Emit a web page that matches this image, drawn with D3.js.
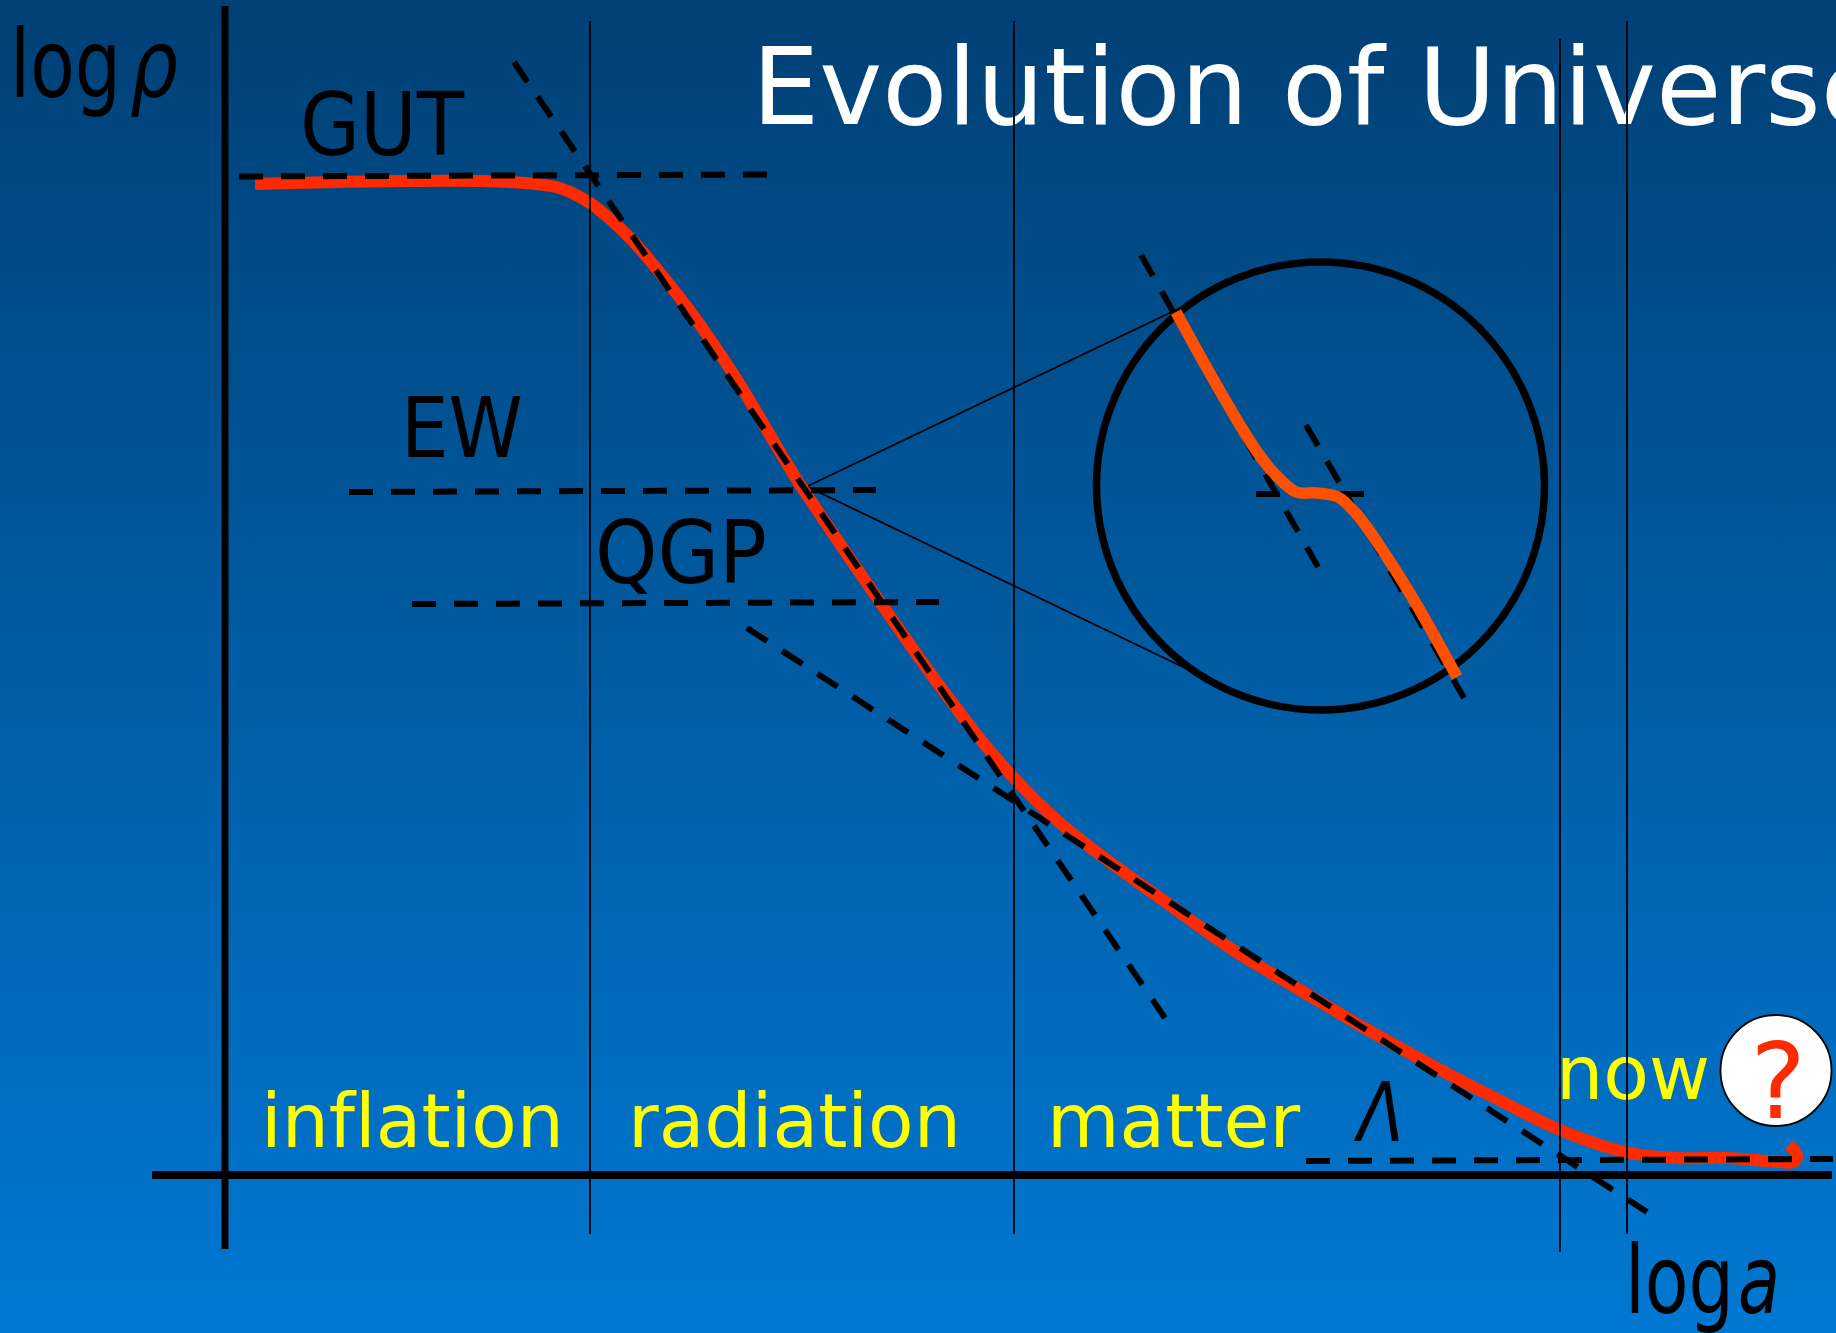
<!DOCTYPE html>
<html><head><meta charset="utf-8">
<style>html,body{margin:0;padding:0;overflow:hidden;background:#000}svg{display:block}text{font-family:"DejaVu Sans";font-variant-ligatures:none}</style>
<script src="https://cdnjs.cloudflare.com/ajax/libs/d3/7.8.5/d3.min.js"></script>
</head><body>
<script>
// Data: [log a, log rho] in arbitrary units, origin at the axis crossing
const densityCurve=[[30,991],[183,994],[285,993],[331,988],[345,983],[365,972],[385,956],[407,935],[431,907],[468,860],[491,827],[512,795],[532,762],[552,728],[572,695],[590,668],[628,612],[655,573],[688,526],[711,494],[735,462],[756,435],[788,398],[835,352],[882,315],[942,272],[1008,225],[1075,185],[1143,145],[1212,107],[1280,72],[1335,45],[1400,23],[1451,17],[1502,17],[1554,13],[1569,13],[1572,20],[1564,30]];
const insetCurve=[[951,863],[983,805],[1018,745],[1035,719],[1049,702],[1071,683],[1092,682],[1113,678],[1134,658],[1162,618],[1193,568],[1232,498]];
const gutLevel=[[14,998.5],[542,1000.5]];
const ewLevel=[[124,683],[651,685]];
const qgpLevel=[[187,571],[714,573]];
const lambdaLevel=[[1081,14],[1608,16]];
const radiationSlope=[[289,1113],[940,157]];
const matterSlope=[[522,547],[1422,-37]];
const insetSlopeA=[[916,920],[1093,608]];
const insetSlopeB=[[1081,750],[1239,477]];
const insetLevel=[[1031,681],[1139,681]];
const zoomLines=[[[583,689],[955,867]],[[583,688],[960,507]]];
const eraBounds=[[365,1154,-59],[789,1154,-59],[1335,1136,-77],[1402,1154,-59]];
const yAxisLine=[[0,1169],[0,-74]];
const xAxisLine=[[-73,0],[1607,0]];
const insetCircle={a:1095.5,r:689,radius:224};
const eras=["inflation","radiation","matter","now"];
const levels=["GUT","EW","QGP"];
const title="Evolution of Universe";

const W=1836,H=1333;
const x=d3.scaleLinear().domain([0,1000]).range([225,1225]);
const y=d3.scaleLinear().domain([0,1000]).range([1175,175]);
const line=d3.line().x(d=>x(d[0])).y(d=>y(d[1]));
const smooth=d3.line().x(d=>x(d[0])).y(d=>y(d[1])).curve(d3.curveCatmullRom.alpha(0.5));

const svg=d3.select("body").append("svg").attr("width",W).attr("height",H).attr("viewBox",`0 0 ${W} ${H}`);
const grad=svg.append("defs").append("linearGradient").attr("id","bg").attr("x1",0).attr("y1",0).attr("x2",0).attr("y2",1);
grad.append("stop").attr("offset",0).attr("stop-color","#004075");
grad.append("stop").attr("offset",1).attr("stop-color","#0078d2");
svg.append("rect").attr("width",W).attr("height",H).attr("fill","url(#bg)");

const DASH="24 18";
function stroke(d,w,col,dash,gen){const p=svg.append("path").attr("d",(gen||line)(d)).attr("fill","none").attr("stroke",col).attr("stroke-width",w);if(dash)p.attr("stroke-dasharray",dash);return p;}
function label(t,px,py,size,col,len,opts){opts=opts||{};const e=svg.append("text").attr("x",px).attr("y",py).attr("font-size",size).attr("fill",col).text(t);
 if(opts.italic)e.attr("font-style","italic");
 if(opts.cond)e.style("font-stretch","condensed");
 if(opts.anchor)e.attr("text-anchor",opts.anchor);
 if(len)e.attr("textLength",len).attr("lengthAdjust","spacingAndGlyphs");return e;}

// inset
stroke(insetSlopeA,6,"#000",DASH);
stroke(insetSlopeB,6,"#000",DASH);
stroke(insetLevel,6,"#000",DASH);
zoomLines.forEach(l=>stroke(l,1.8,"#000"));
svg.append("circle").attr("cx",x(insetCircle.a)).attr("cy",y(insetCircle.r)).attr("r",x(insetCircle.radius)-x(0)).attr("fill","none").attr("stroke","#000").attr("stroke-width",7.5);
stroke(insetCurve,11.5,"#ff5000",null,smooth);

// main curve
stroke(densityCurve,12,"#ff2a00",null,smooth);
[gutLevel,ewLevel,qgpLevel,lambdaLevel,radiationSlope,matterSlope].forEach(l=>stroke(l,6,"#000",DASH));

// text
label(title,752,124,106.4,"#fff");
label(levels[0],300,155,88,"#000",164,{cond:1});
label(levels[1],401,457,83,"#000",122,{cond:1});
label(levels[2],595,583,88,"#000",172,{cond:1});
label(eras[0],261,1147,75,"#ff0",303);
label(eras[1],628,1147,75,"#ff0",333);
label(eras[2],1047,1147,75,"#ff0",253);
label(eras[3],1556,1099,75,"#ff0",154);
label("log",10,97,95,"#000",111);
label("ρ",130,97,95,"#000",48,{italic:1});
label("log",1625,1313,95,"#000",109);
label("a",1738,1313,95,"#000",42,{italic:1});
label("Λ",1358,1141,82,"#000",46,{italic:1});

// era bounds and axes
eraBounds.forEach(d=>stroke([[d[0],d[1]],[d[0],d[2]]],1.8,"#000"));
stroke(yAxisLine,7,"#000");
stroke(xAxisLine,8,"#000");

// question mark
svg.append("circle").attr("cx",1776).attr("cy",1070.5).attr("r",55.5).attr("fill","#fff").attr("stroke","#000").attr("stroke-width",1.8);
label("?",1778,1118,105,"#ff2a00",null,{anchor:"middle"});
</script>
</body></html>
